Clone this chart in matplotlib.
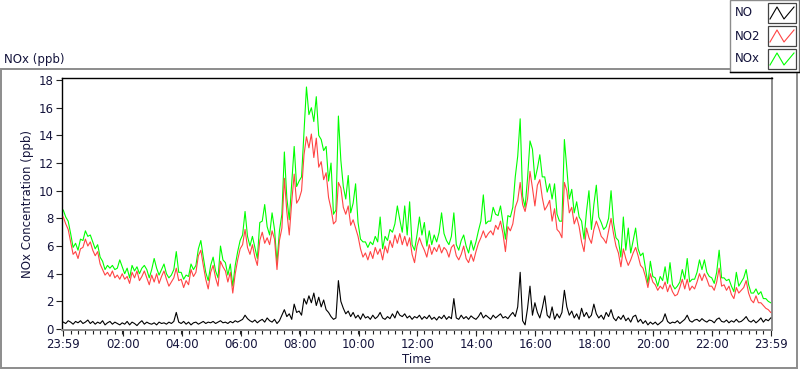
import numpy as np
import matplotlib
matplotlib.use("Agg")
import matplotlib.pyplot as plt
from matplotlib.patches import Rectangle
from matplotlib.lines import Line2D

# ---- data: 5-minute readings from 23:59 onward (minutes since start) ----
step_min = 5
no2 = [
    8.1, 7.6, 7.2, 6.3, 5.4, 5.6, 5.1, 5.8, 5.9, 6.5, 6.0, 6.3,
    5.7, 5.3, 5.6, 4.7, 4.3, 3.9, 4.1, 3.8, 4.2, 3.7, 3.9, 3.6,
    4.0, 3.6, 3.8, 3.3, 4.1, 3.7, 4.2, 3.5, 3.8, 4.2, 3.7, 3.2,
    3.9, 3.4, 4.0, 3.3, 3.8, 4.2, 3.6, 3.1, 3.4, 3.7, 4.4, 3.5,
    3.6, 3.0, 3.5, 3.2, 4.3, 3.8, 4.1, 5.3, 5.7, 4.6, 3.6, 2.9,
    4.1, 4.6, 3.7, 3.1, 4.9, 4.5, 4.2, 3.4, 4.1, 2.6, 4.0, 5.0,
    5.8, 6.1, 7.2, 5.9, 5.4, 6.1, 5.2, 4.6, 6.4, 7.0, 6.2, 6.6,
    6.1, 7.1, 6.5, 4.3, 6.4, 7.3, 10.9, 8.5, 6.8, 9.2, 11.2, 9.1,
    9.4, 10.0, 12.6, 13.9, 13.1, 14.1, 12.4, 13.8, 11.7, 12.1, 10.8, 11.3,
    9.5, 8.7, 7.6, 7.8, 10.6, 10.2, 8.8, 8.3, 8.9, 7.5, 7.9, 7.3,
    6.7, 5.8, 5.2, 5.5, 5.0, 5.6, 5.1, 5.9, 5.4, 5.8, 5.0, 6.0,
    5.5, 6.4, 5.9, 6.8, 6.2, 6.9, 6.1, 6.7, 6.0, 6.6, 5.4, 4.8,
    6.0, 6.6, 6.1, 5.7, 5.2, 6.1, 5.4, 5.9, 5.6, 6.1, 5.5, 5.9,
    5.7, 5.2, 5.9, 6.1, 5.3, 5.0, 5.4, 6.0, 5.1, 4.8, 5.4, 4.9,
    5.6, 6.2, 6.6, 7.1, 6.6, 6.9, 7.1, 6.8, 7.5, 7.2, 7.8, 6.9,
    5.6, 7.4, 7.1, 7.6, 8.8, 9.3, 10.6, 9.0, 8.5, 9.4, 11.4, 10.2,
    8.9, 10.4, 10.8, 9.5, 8.6, 8.9, 9.3, 7.8, 8.7, 7.2, 7.0, 6.6,
    10.6, 10.0, 8.4, 8.8, 7.6, 8.1, 7.4, 6.3, 5.6, 7.3, 6.6, 6.2,
    7.2, 7.8, 7.3, 6.7, 6.5, 6.2, 7.1, 8.0, 6.9, 6.0, 5.5, 4.5,
    5.8, 5.1, 4.6, 5.0, 5.5, 5.9, 5.3, 4.6, 4.4, 3.8, 3.0, 4.0,
    3.4, 3.2, 2.8, 3.1, 2.9, 3.4, 2.7, 3.2, 2.7, 2.4, 2.5, 3.0,
    3.6, 2.9, 3.6, 2.8, 3.1, 2.9, 3.4, 4.0, 3.5, 4.0, 3.6, 3.1,
    3.1, 2.8, 3.4, 4.4, 3.1, 3.2, 2.8, 3.1, 2.5, 2.2, 3.0, 2.6,
    2.8, 3.0, 3.5, 2.6, 2.1, 1.9, 2.4, 1.9, 1.9, 1.7, 1.5, 1.4,
    1.2,
]
no = [
    0.5, 0.4, 0.6, 0.5, 0.35, 0.55, 0.45, 0.6, 0.4, 0.5, 0.65, 0.4,
    0.55, 0.35, 0.5, 0.4, 0.6, 0.3, 0.45, 0.55, 0.35, 0.5, 0.4, 0.3,
    0.45, 0.35, 0.55, 0.3, 0.5, 0.4, 0.25, 0.45, 0.6, 0.35, 0.5, 0.4,
    0.35, 0.45, 0.3, 0.5, 0.4, 0.45, 0.35, 0.5, 0.4, 0.55, 1.2, 0.5,
    0.4, 0.55, 0.35, 0.5, 0.3, 0.45, 0.5, 0.35, 0.45, 0.55, 0.4, 0.5,
    0.45, 0.55, 0.4, 0.5, 0.6, 0.45, 0.5, 0.4, 0.55, 0.45, 0.6, 0.5,
    0.6, 0.7, 1.0, 0.75, 0.6, 0.5, 0.65, 0.45, 0.6, 0.7, 0.5, 0.8,
    0.6, 0.5, 0.7, 0.4, 0.6, 1.0, 1.4, 0.9, 1.1, 0.7, 1.8, 1.2,
    1.3, 1.0, 2.2, 1.8, 2.4, 1.9, 2.6, 1.7, 2.3, 1.6, 2.1, 1.4,
    1.2, 0.9, 0.7, 0.8, 3.5, 2.0, 1.5, 1.1, 1.3, 0.9, 1.2, 0.8,
    1.0, 0.7, 1.1, 0.8, 0.9, 0.7, 1.0, 0.75, 0.9, 1.2, 0.8, 0.7,
    0.9, 0.75, 1.1, 0.8, 1.3, 1.0, 0.9, 1.1, 0.8, 0.95, 0.7, 0.9,
    0.8, 1.0, 0.7, 0.9, 0.75, 1.0, 0.7, 0.85, 0.65, 0.9, 0.75, 1.0,
    0.7, 0.9, 0.75, 2.2, 0.8, 0.7, 1.0, 0.75, 0.9, 0.7, 0.95, 0.8,
    0.7, 0.9, 1.2, 0.8, 1.0, 0.85, 0.7, 1.0, 0.8, 0.95, 1.1, 0.8,
    0.9, 0.75, 1.0, 1.2, 0.9, 1.6, 4.1, 0.6, 0.3, 1.5, 3.1, 1.0,
    1.9, 1.2, 0.8, 1.5, 2.4, 1.0, 0.8, 1.6, 0.7, 1.1, 0.8, 1.2,
    2.8, 1.6, 1.0, 1.3, 0.8, 1.1, 0.7, 1.5, 0.9, 1.2, 0.8, 1.0,
    1.8, 1.1, 0.8, 1.0, 0.7, 1.2, 0.9, 1.4, 0.8, 0.6, 0.9, 0.7,
    1.0, 0.6, 0.8, 0.5, 0.9, 1.0, 0.5, 0.7, 0.4, 0.6, 0.3, 0.5,
    0.35, 0.5, 0.3, 0.45, 0.6, 1.1, 0.55, 0.4, 0.5, 0.45, 0.6, 0.4,
    0.55, 0.7, 1.0, 0.6, 0.5, 0.65, 0.7, 0.55, 0.75, 0.6, 0.5, 0.65,
    0.6, 0.45, 0.7, 0.8, 0.55, 0.5, 0.65, 0.45, 0.6, 0.5, 0.7, 0.5,
    0.55, 0.7, 0.9, 0.6, 0.5, 0.65, 0.45, 0.6, 0.8, 0.5, 0.7, 0.6,
    0.8,
]
nox = [
    8.6, 8.1, 7.8, 6.9, 5.9, 6.2, 5.7, 6.5, 6.4, 7.1, 6.7, 6.8,
    6.3, 5.8, 6.1, 5.2, 4.9, 4.3, 4.6, 4.4, 4.6, 4.3, 4.4, 5.0,
    4.5, 4.0, 4.4, 3.7, 4.6, 4.2, 4.5, 4.0, 4.4, 4.6, 4.3, 3.7,
    4.3, 5.1, 4.4, 3.9, 4.3, 4.7, 4.0, 3.7, 3.9, 4.3, 5.6, 4.1,
    4.1, 3.6, 3.9, 3.8, 4.7, 4.3, 4.6, 5.8, 6.4, 5.2, 4.1, 3.5,
    4.6, 5.2, 4.2, 3.7, 6.0, 5.0, 4.8, 3.9, 4.7, 3.1, 4.6, 5.6,
    6.4, 6.8, 8.5, 6.7, 6.0, 6.7, 5.9, 5.1, 7.7, 7.8, 9.0, 7.4,
    6.8, 8.4, 7.2, 4.8, 7.1, 8.3, 12.8, 9.5, 7.9, 10.5, 13.2, 10.3,
    10.7, 11.0, 14.3, 17.5, 15.5, 16.0, 15.0, 16.8, 14.0, 13.7, 12.9, 13.2,
    10.7, 12.0, 8.3, 8.6, 15.4, 12.2, 10.3, 9.4, 11.1, 8.4, 9.1, 10.5,
    7.7, 6.5, 6.3, 6.3, 5.9, 6.3, 6.1, 6.7, 6.3, 8.1, 5.8, 6.7,
    6.4, 7.2, 7.0, 7.6, 8.9, 7.9, 7.0, 8.9, 6.8, 9.2, 6.1, 5.7,
    6.8, 8.1, 6.8, 7.7, 6.0, 7.1, 6.1, 6.8, 6.3, 7.0, 8.4, 6.9,
    6.4, 6.1, 6.7, 8.4, 6.1, 5.7, 6.4, 6.8, 6.0, 5.5, 6.4, 5.7,
    6.3, 7.1, 7.8, 9.7, 7.6, 7.8, 7.8, 8.8, 8.3, 8.2, 8.9, 7.7,
    6.5, 8.2, 8.1, 8.8, 11.0, 12.5, 15.2, 9.6, 8.8, 10.9, 13.6, 13.0,
    10.8, 11.6, 12.6, 11.0, 11.0, 9.9, 10.5, 9.4, 10.5, 8.3, 7.8, 7.8,
    13.7, 11.6, 9.4, 10.1, 8.4, 9.2, 8.1, 7.8, 6.5, 8.5, 10.0, 7.2,
    9.0, 10.4, 8.1, 7.7, 7.2, 7.4, 8.0, 10.0, 7.7, 6.6, 6.4, 5.2,
    8.1, 5.7, 7.3, 5.5, 6.4, 7.3, 5.8, 5.3, 5.5, 4.4, 3.3, 4.9,
    3.8, 3.7, 3.1, 3.8, 3.5, 4.5, 3.3, 4.8, 3.2, 2.9, 3.1, 3.4,
    4.3, 3.6, 5.1, 3.4, 3.6, 3.6, 4.1, 5.0, 4.3, 5.0, 4.1, 3.8,
    3.7, 3.3, 4.1, 5.7, 3.7, 3.7, 3.5, 3.6, 3.1, 2.7, 4.1, 3.1,
    3.4, 3.7, 4.3, 3.2, 2.6, 2.6, 2.9, 2.5, 2.7, 2.2, 2.2, 2.0,
    1.9,
]
tick_minutes = [0, 121, 241, 361, 481, 601, 721, 841, 961, 1081, 1201, 1321, 1440]
tick_labels = ["23:59", "02:00", "04:00", "06:00", "08:00", "10:00", "12:00",
               "14:00", "16:00", "18:00", "20:00", "22:00", "23:59"]
y_ticks = [0, 2, 4, 6, 8, 10, 12, 14, 16, 18]
series_names = ["NO", "NO2", "NOx"]
series_colors = ["#000000", "#ff4444", "#00ff00"]

t = np.arange(len(no2)) * step_min

W, H = 800, 369
fig = plt.figure(figsize=(W / 100, H / 100), dpi=100)
fig.patch.set_facecolor("white")
plt.rcParams["font.family"] = ["DejaVu Sans"]
txt_col = "#14143c"

def fx(px):
    return px / W

def fy(py):
    return 1 - py / H

# outer panel frame
fig.add_artist(Rectangle((fx(1), fy(368)), fx(797) - fx(1), fy(69) - fy(368),
                         transform=fig.transFigure, fill=False,
                         edgecolor="#8c8c8c", linewidth=1.4))

ax = fig.add_axes([fx(62), fy(330), fx(772) - fx(62), fy(78) - fy(330)])
ax.plot(t, nox, color=series_colors[2], linewidth=0.8, zorder=2)
ax.plot(t, no2, color=series_colors[1], linewidth=0.8, zorder=3)
ax.plot(t, no, color=series_colors[0], linewidth=0.8, zorder=4)

ax.set_xlim(-2.6, 1442.6)
ax.set_ylim(-0.07, 18.15)
ax.set_xticks(tick_minutes)
ax.set_xticklabels(tick_labels)
ax.set_xticks(np.arange(0, 1441, 15), minor=True)
ax.set_yticks(y_ticks)
ax.set_yticklabels([str(v) for v in y_ticks])
ax.tick_params(axis="both", which="major", labelsize=8.5, colors="#222222",
               labelcolor=txt_col, length=4, width=0.8, pad=2)
ax.tick_params(axis="x", which="minor", length=3, width=0.8, colors="#222222")
for s in ["left", "top"]:
    ax.spines[s].set_color("black")
    ax.spines[s].set_linewidth(1.0)
for s in ["bottom", "right"]:
    ax.spines[s].set_color("#8c8c8c")
    ax.spines[s].set_linewidth(1.4)

ax.set_ylabel("NOx Concentration (ppb)", fontsize=8.5, color=txt_col, labelpad=3)
ax.set_xlabel("Time", fontsize=8.5, color=txt_col, labelpad=1)

fig.text(fx(4), fy(59), "NOx (ppb)", fontsize=8.5, color=txt_col,
         ha="left", va="center")

# legend panel (top right)
fig.add_artist(Rectangle((fx(730), fy(72)), fx(799) - fx(730), fy(0) - fy(72),
                         transform=fig.transFigure, facecolor="white",
                         edgecolor="#8c8c8c", linewidth=1.0, zorder=5))
fig.add_artist(Line2D([fx(730), fx(799.5), fx(799.5)], [fy(72), fy(72), fy(0)],
                      transform=fig.transFigure, color="black", linewidth=1.0, zorder=6))
rows = [13, 36, 59]
for name, col, ry in zip(series_names, series_colors, rows):
    fig.text(fx(735), fy(ry), name, fontsize=8.5, color=txt_col,
             ha="left", va="center", zorder=7)
    fig.add_artist(Rectangle((fx(768), fy(ry + 10)), fx(796) - fx(768), fy(ry - 10) - fy(ry + 10),
                             transform=fig.transFigure, facecolor="white",
                             edgecolor="#444444", linewidth=0.9, zorder=7))
    xs = [fx(770), fx(777), fx(784), fx(794)]
    ys = [fy(ry + 6), fy(ry - 6), fy(ry + 6), fy(ry - 6)]
    fig.add_artist(Line2D(xs, ys, transform=fig.transFigure, color=col,
                          linewidth=0.8, zorder=8))

fig.savefig("out.png", dpi=100, facecolor="white")
